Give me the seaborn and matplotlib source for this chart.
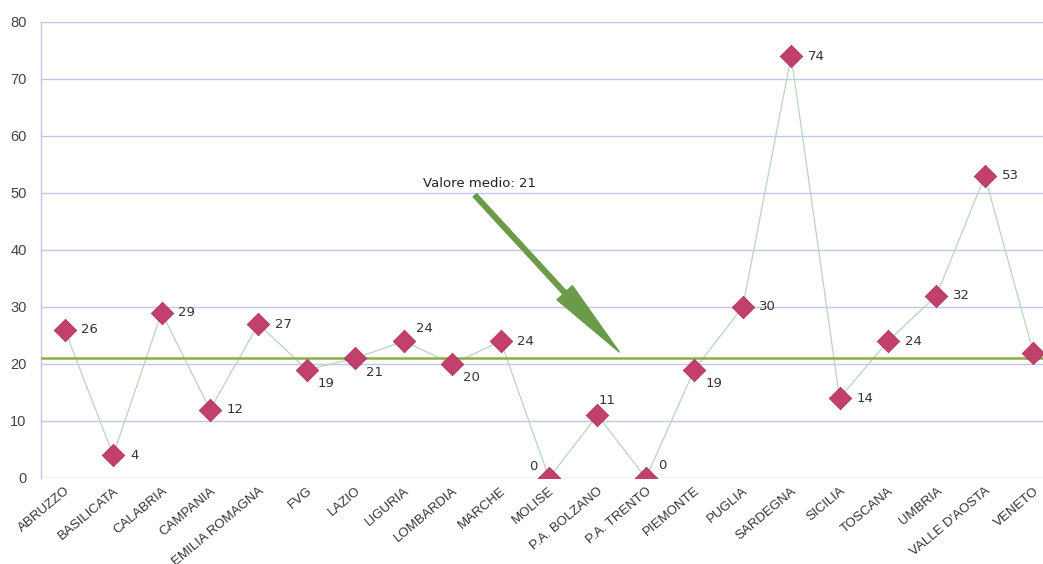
import matplotlib
matplotlib.use("Agg")
import matplotlib.pyplot as plt
import seaborn as sns
import pandas as pd

regions = ["ABRUZZO", "BASILICATA", "CALABRIA", "CAMPANIA", "EMILIA ROMAGNA",
           "FVG", "LAZIO", "LIGURIA", "LOMBARDIA", "MARCHE", "MOLISE",
           "P.A. BOLZANO", "P.A. TRENTO", "PIEMONTE", "PUGLIA", "SARDEGNA",
           "SICILIA", "TOSCANA", "UMBRIA", "VALLE D'AOSTA", "VENETO"]
values = [26, 4, 29, 12, 27, 19, 21, 24, 20, 24, 0, 11, 0, 19, 30, 74,
          14, 24, 32, 53, 22]
mean_value = 21
mean_label = "Valore medio: 21"
y_ticks = [0, 10, 20, 30, 40, 50, 60, 70, 80]

# where each value label sits relative to its marker
label_place = ["r", "r", "r", "r", "r", "br", "br", "ar", "br", "r", "al",
               "a", "ar", "br", "r", "r", "r", "r", "r", "r", "r"]

df = pd.DataFrame({"regione": regions, "valore": values})
df["pos"] = range(len(regions))

sns.set_theme(style="white")
plt.rcParams["font.family"] = ["DejaVu Sans"]

fig = plt.figure(figsize=(10.43, 5.64), dpi=100)
ax = fig.add_axes([0.0389, 0.1525, 0.975, 0.8085])

grid_col = "#c4c4ee"
for t in y_ticks:
    ax.axhline(t, color=grid_col, lw=1.0, zorder=0)

sns.lineplot(data=df, x="pos", y="valore", sort=False, color="#b9d6b9",
             lw=0.9, ax=ax, zorder=2)
sns.scatterplot(data=df, x="pos", y="valore", marker="D", s=130,
                color="#c2406e", edgecolor="#b0305e", linewidth=0.6,
                ax=ax, zorder=4)

ax.axhline(mean_value, color="#8aae48", lw=1.8, zorder=3)

offsets = {"r": (12, 0, "left", "center"),
           "br": (8, -10, "left", "center"),
           "ar": (9, 9, "left", "center"),
           "al": (-8, 8, "right", "center"),
           "a": (7, 11, "center", "center")}
for p, v, place in zip(df["pos"], df["valore"], label_place):
    dx, dy, ha, va = offsets[place]
    ax.annotate(str(v), (p, v), xytext=(dx, dy), textcoords="offset points",
                ha=ha, va=va, fontsize=9.5, color="#333333",
                annotation_clip=False, zorder=5)

# callout for the average line: caption plus a pointer down to the line
ax.text(8.57, 51.6, mean_label, ha="center", va="center", fontsize=9.5,
        color="#222222", zorder=6)
ax.annotate("", xy=(11.45, mean_value + 1.1), xytext=(8.47, 49.6),
            arrowprops=dict(arrowstyle="simple,head_length=2.9,head_width=0.75,tail_width=0.17",
                            mutation_scale=20, color="#6a9a4a",
                            shrinkA=0, shrinkB=0),
            zorder=6)

ax.set_xlim(-0.5, len(regions) - 0.5)
ax.set_ylim(0, 80)
ax.set_yticks(y_ticks)
ax.set_yticklabels([str(t) for t in y_ticks], fontsize=10.5, color="#444444",
                   family="Liberation Sans")
ax.set_xticks(df["pos"])
ax.set_xticklabels(regions, rotation=40, ha="right", rotation_mode="anchor",
                   fontsize=9.5, color="#333333", family="Liberation Sans")
ax.tick_params(axis="y", length=0, pad=10)
ax.tick_params(axis="x", length=0, pad=5)
ax.set_xlabel("")
ax.set_ylabel("")

for side in ["top", "right", "bottom"]:
    ax.spines[side].set_visible(False)
ax.spines["left"].set_color(grid_col)
ax.spines["left"].set_linewidth(1.0)

fig.savefig("out.png", dpi=100)
